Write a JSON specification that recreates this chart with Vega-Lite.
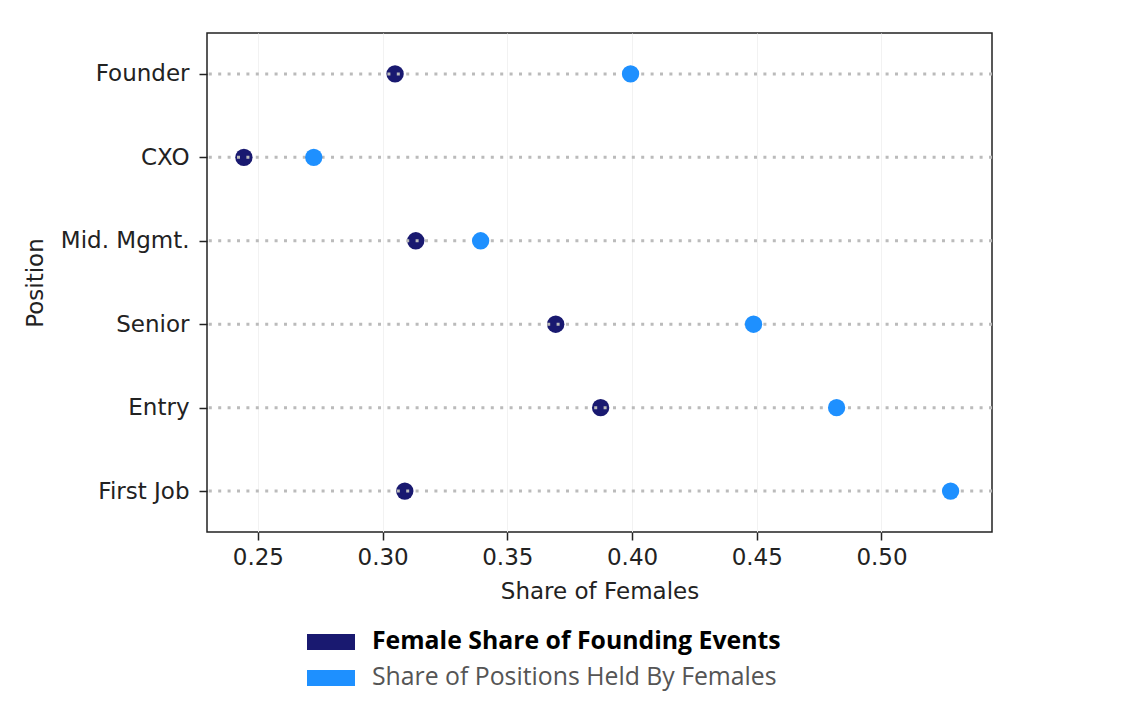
{
  "$schema": "https://vega.github.io/schema/vega-lite/v6.json",
  "width": 785,
  "height": 499,
  "autosize": "none",
  "padding": {"left": 207, "top": 33, "right": 133, "bottom": 177},
  "background": "white",
  "config": {
    "font": "DejaVu Sans",
    "view": {"stroke": "#222", "strokeWidth": 1.5}
  },
  "data": {
    "values": [
      {"position": "Founder", "series": "Female Share of Founding Events", "share": 0.305},
      {"position": "CXO", "series": "Female Share of Founding Events", "share": 0.2444},
      {"position": "Mid. Mgmt.", "series": "Female Share of Founding Events", "share": 0.3133},
      {"position": "Senior", "series": "Female Share of Founding Events", "share": 0.3694},
      {"position": "Entry", "series": "Female Share of Founding Events", "share": 0.3874},
      {"position": "First Job", "series": "Female Share of Founding Events", "share": 0.3089},
      {"position": "Founder", "series": "Share of Positions Held By Females", "share": 0.3994},
      {"position": "CXO", "series": "Share of Positions Held By Females", "share": 0.2724},
      {"position": "Mid. Mgmt.", "series": "Share of Positions Held By Females", "share": 0.3393},
      {"position": "Senior", "series": "Share of Positions Held By Females", "share": 0.4487},
      {"position": "Entry", "series": "Share of Positions Held By Females", "share": 0.482},
      {"position": "First Job", "series": "Share of Positions Held By Females", "share": 0.5277}
    ]
  },
  "encoding": {
    "y": {
      "field": "position",
      "type": "nominal",
      "sort": ["Founder", "CXO", "Mid. Mgmt.", "Senior", "Entry", "First Job"],
      "scale": {"type": "point", "padding": 0.49},
      "axis": {
        "title": "Position",
        "titleFontSize": 23,
        "titleFontWeight": "normal",
        "titleColor": "#222",
        "titlePadding": 13,
        "labelFontSize": 23,
        "labelColor": "#222",
        "labelPadding": 10,
        "tickSize": 8,
        "tickColor": "#222",
        "tickWidth": 1.5,
        "domain": false,
        "grid": false
      }
    }
  },
  "layer": [
    {
      "transform": [{"filter": "datum.series === 'Female Share of Founding Events'"}],
      "mark": {"type": "point", "filled": true, "size": 300, "opacity": 1},
      "encoding": {
        "x": {
          "field": "share",
          "type": "quantitative",
          "scale": {"domain": [0.2296, 0.5443], "zero": false, "nice": false},
          "axis": {
            "title": "Share of Females",
            "titleFontSize": 23,
            "titleFontWeight": "normal",
            "titleColor": "#222",
            "titlePadding": 11,
            "values": [0.25, 0.3, 0.35, 0.4, 0.45, 0.5],
            "format": ".2f",
            "labelFontSize": 23,
            "labelColor": "#222",
            "labelPadding": 6,
            "tickSize": 8,
            "tickColor": "#222",
            "tickWidth": 1.5,
            "domain": false,
            "grid": true,
            "gridColor": "#f2f2f2",
            "gridWidth": 1
          }
        },
        "color": {
          "field": "series",
          "type": "nominal",
          "scale": {
            "domain": ["Female Share of Founding Events", "Share of Positions Held By Females"],
            "range": ["#191970", "#1E90FF"]
          },
          "legend": {
            "orient": "none",
            "legendX": 100,
            "legendY": 585,
            "title": null,
            "symbolType": "M-1,-0.333L1,-0.333L1,0.333L-1,0.333Z",
            "symbolSize": 2304,
            "symbolStrokeWidth": 0,
            "labelFont": "Open Sans",
            "labelFontSize": 24.8,
            "labelOffset": 17,
            "labelLimit": 700,
            "rowPadding": -2,
            "labelFontWeight": {"expr": "datum.label === 'Female Share of Founding Events' ? 'bold' : 'normal'"},
            "labelColor": {"expr": "datum.label === 'Female Share of Founding Events' ? '#000000' : '#555555'"}
          }
        }
      }
    },
    {
      "transform": [{"filter": "datum.series === 'Female Share of Founding Events'"}],
      "mark": {"type": "rule", "strokeDash": [3, 6.4], "strokeWidth": 3, "color": "#bbbbbb"},
      "encoding": {}
    },
    {
      "transform": [{"filter": "datum.series === 'Share of Positions Held By Females'"}],
      "mark": {"type": "point", "filled": true, "size": 300, "opacity": 1},
      "encoding": {
        "x": {"field": "share", "type": "quantitative"},
        "color": {"field": "series", "type": "nominal"}
      }
    }
  ]
}
